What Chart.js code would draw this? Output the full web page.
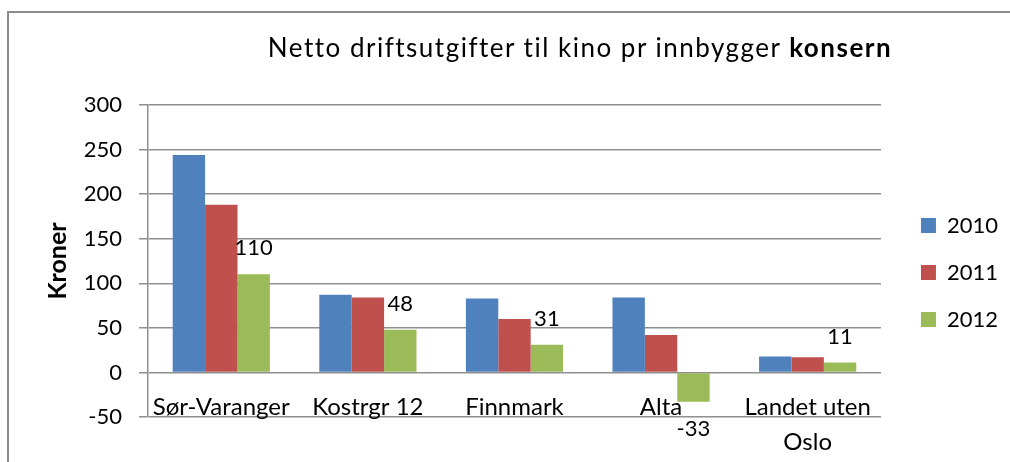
<!DOCTYPE html>
<html>
<head>
<meta charset="utf-8">
<script src="https://cdn.jsdelivr.net/npm/chart.js@4"></script>
<style>
  html, body { margin: 0; padding: 0; background: #fff; overflow: hidden; }
  #wrap { position: relative; width: 1010px; height: 462px; overflow: hidden; }
  #tittel { position: absolute; left: 180px; width: 800px; top: 34px; text-align: center;
            font: 26px/26px Lato, sans-serif; letter-spacing: 1.5px; color: #000; white-space: nowrap; }
  canvas { position: absolute; left: 0; top: 0; }
</style>
</head>
<body>
<div id="wrap">
  <canvas id="graf" width="1010" height="462"></canvas>
  <div id="tittel">Netto driftsutgifter til kino pr innbygger <b>konsern</b></div>
</div>
<script>
  // Data lest av bildet
  const kategorier = ["Sør-Varanger", "Kostrgr 12", "Finnmark", "Alta", ["Landet uten", "Oslo"]];
  const aar = ["2010", "2011", "2012"];
  const verdier2010 = [244, 87, 83, 84, 18];
  const verdier2011 = [188, 84, 60, 42, 17];
  const verdier2012 = [110, 48, 31, -33, 11];
  const yMin = -50, yMax = 300, ySteg = 50;

  const farger = ["#4F81BD", "#C0504D", "#9BBB59"];
  const gridFarge = "#8f8f8f";
  const font = "Lato, sans-serif";

  // Ramme rundt diagrammet (bare venstre og øvre kant synes)
  const ramme = {
    id: "ramme",
    beforeDraw(chart) {
      const ctx = chart.ctx;
      ctx.save();
      ctx.strokeStyle = "#8c8c8c";
      ctx.lineWidth = 2;
      ctx.beginPath();
      ctx.moveTo(8, chart.height);
      ctx.lineTo(8, 12);
      ctx.lineTo(chart.width + 5, 12);
      ctx.stroke();
      ctx.beginPath();
      ctx.restore();
    }
  };

  // Etiketter kun for 2012-serien
  const verdiEtiketter = {
    id: "verdiEtiketter",
    afterDatasetsDraw(chart) {
      const meta = chart.getDatasetMeta(2);
      const ctx = chart.ctx;
      ctx.save();
      ctx.font = "22px " + font;
      ctx.fillStyle = "#000";
      ctx.textAlign = "center";
      ctx.textBaseline = "middle";
      meta.data.forEach((bar, i) => {
        const v = verdier2012[i];
        const y = v >= 0 ? bar.y - 26 : bar.y + 27;
        ctx.fillText(String(v), bar.x, y);
      });
      ctx.restore();
    }
  };

  new Chart(document.getElementById("graf"), {
    type: "bar",
    data: {
      labels: kategorier,
      datasets: [
        { label: aar[0], data: verdier2010, backgroundColor: farger[0] },
        { label: aar[1], data: verdier2011, backgroundColor: farger[1] },
        { label: aar[2], data: verdier2012, backgroundColor: farger[2] }
      ]
    },
    options: {
      responsive: false,
      animation: false,
      datasets: { bar: { categoryPercentage: 0.663, barPercentage: 1 } },
      layout: { padding: { top: 105, bottom: 22, left: 0, right: 2 } },
      plugins: {
        tooltip: { enabled: false },
        legend: {
          position: "right",
          fullSize: true,
          labels: {
            boxWidth: 15, boxHeight: 15, padding: 25,
            color: "#000", font: { family: font, size: 22 }
          }
        }
      },
      scales: {
        x: {
          grid: { display: false, drawTicks: false },
          border: { display: false },
          ticks: {
            color: "#000", font: { family: font, size: 24, lineHeight: "35px" },
            mirror: true, padding: -7.5, maxRotation: 0, autoSkip: false
          },
          afterFit(s) { s.height = 23; }
        },
        y: {
          min: yMin, max: yMax,
          ticks: { stepSize: ySteg, color: "#000", font: { family: font, size: 22 }, padding: 17 },
          grid: { color: gridFarge, lineWidth: 1.5, tickLength: 9 },
          border: { color: gridFarge, width: 1.5 },
          title: {
            display: true, text: "Kroner", color: "#000",
            font: { family: font, size: 25, weight: "bold" },
            padding: { top: 43 }
          },
          afterFit(s) { s.width = 148; }
        },
        luft: {
          type: "linear", position: "right",
          grid: { display: false }, border: { display: false },
          ticks: { display: false },
          afterFit(s) { s.width = 15; }
        }
      }
    },
    plugins: [ramme, verdiEtiketter]
  });
</script>
</body>
</html>
